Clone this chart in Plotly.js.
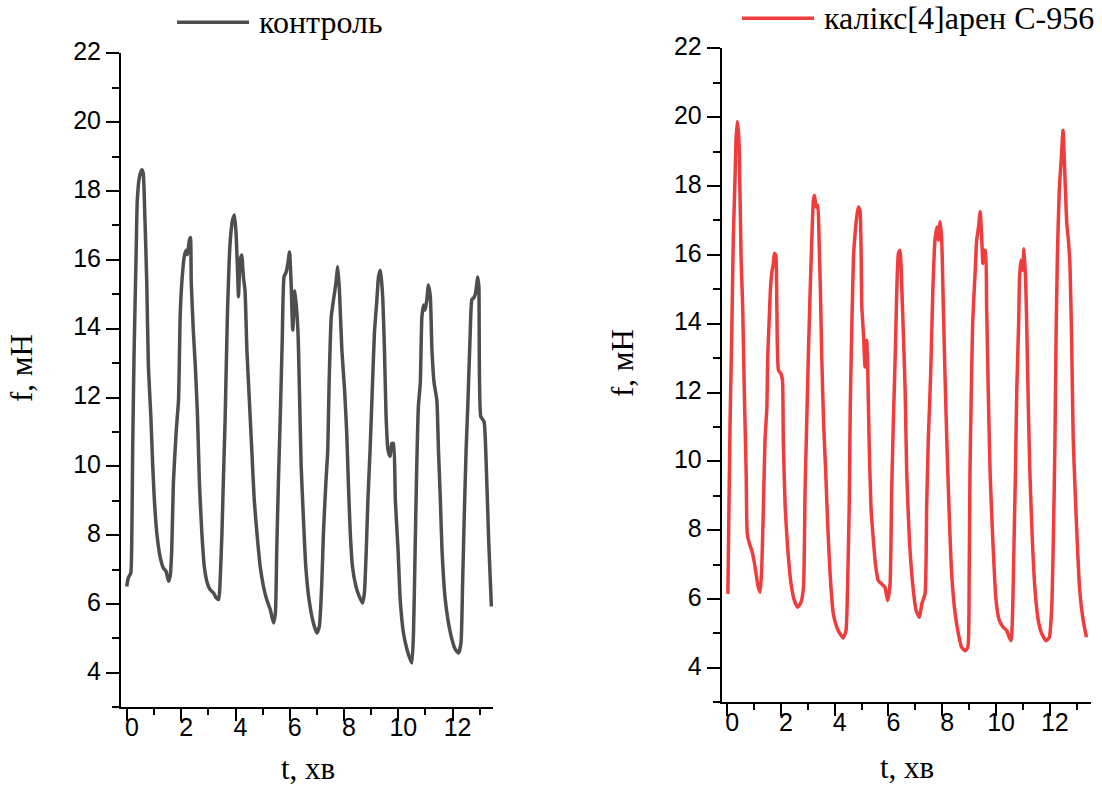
<!DOCTYPE html>
<html>
<head>
<meta charset="utf-8">
<script src="https://cdn.plot.ly/plotly-3.0.1.min.js"></script>
<style>html,body{margin:0;padding:0;background:#fff;}#chart{width:1102px;height:787px;}</style>
</head>
<body>
<div id="chart"></div>
<script>
// ---- data ----
const seriesNames = ["контроль", "калікс[4]арен С-956"];
const xTitle = "t, хв";
const yTitle = "f, мН";

const tControl = [-0.01,0.05,0.14,0.18,0.21,0.26,0.34,0.38,0.46,0.55,0.60,0.66,0.73,0.79,0.88,0.95,1.01,1.10,1.22,1.34,1.44,1.53,1.59,1.65,1.71,1.81,1.90,1.96,2.02,2.11,2.18,2.23,2.30,2.34,2.37,2.45,2.52,2.60,2.67,2.76,2.85,2.96,3.06,3.19,3.29,3.38,3.43,3.50,3.55,3.62,3.70,3.80,3.89,3.96,4.02,4.07,4.11,4.17,4.23,4.29,4.35,4.42,4.51,4.60,4.69,4.79,4.91,5.03,5.15,5.28,5.40,5.47,5.52,5.58,5.65,5.72,5.79,5.87,5.93,5.99,6.05,6.11,6.19,6.30,6.35,6.42,6.50,6.59,6.71,6.87,7.00,7.09,7.18,7.24,7.33,7.40,7.45,7.53,7.61,7.70,7.77,7.83,7.92,8.02,8.10,8.16,8.23,8.31,8.44,8.56,8.68,8.75,8.82,8.88,8.96,9.05,9.12,9.21,9.27,9.34,9.39,9.43,9.49,9.55,9.62,9.70,9.76,9.82,9.89,9.99,10.07,10.19,10.32,10.44,10.50,10.56,10.62,10.68,10.74,10.81,10.87,10.93,10.99,11.05,11.11,11.18,11.24,11.32,11.42,11.48,11.55,11.61,11.73,11.92,12.10,12.22,12.31,12.37,12.43,12.50,12.56,12.65,12.71,12.78,12.84,12.93,12.97,13.04,13.16,13.23,13.33,13.43];
const fControl = [6.51,6.76,6.90,8.06,10.48,13.19,16.28,17.73,18.41,18.62,18.51,17.25,15.32,12.90,11.45,10.00,9.03,8.06,7.38,7.05,6.95,6.66,6.80,7.58,9.51,10.96,11.93,14.35,15.32,16.09,16.28,16.15,16.57,16.65,15.32,13.87,12.90,11.45,9.51,8.06,7.09,6.61,6.42,6.32,6.18,6.13,6.61,8.06,9.51,11.45,14.35,16.48,17.15,17.30,16.77,15.80,14.93,15.99,16.14,15.51,15.12,13.38,11.93,10.48,9.03,8.06,7.09,6.51,6.13,5.84,5.45,5.74,7.58,9.51,11.45,13.58,15.51,15.65,15.90,16.23,15.32,13.96,15.10,13.96,12.42,10.00,8.54,7.09,6.13,5.45,5.16,5.35,6.61,8.06,9.51,10.48,12.42,14.35,14.83,15.32,15.80,15.12,13.38,12.22,10.96,9.51,8.06,7.09,6.51,6.22,6.03,6.32,7.58,9.03,10.48,12.42,13.87,14.83,15.51,15.70,15.32,14.83,13.38,11.45,10.48,10.29,10.67,10.67,9.03,7.58,6.13,5.16,4.68,4.39,4.29,5.16,7.58,10.00,11.74,12.42,14.35,14.69,14.54,14.83,15.27,14.93,13.38,12.42,11.93,10.48,9.03,7.58,6.13,5.16,4.68,4.58,4.87,6.61,8.54,10.50,11.74,13.87,14.84,14.90,15.00,15.50,15.20,11.45,11.30,10.29,7.87,5.93];

const tCalix = [0.03,0.07,0.11,0.17,0.23,0.30,0.33,0.38,0.42,0.45,0.52,0.58,0.64,0.71,0.75,0.83,0.92,1.00,1.08,1.16,1.23,1.29,1.35,1.41,1.48,1.51,1.56,1.61,1.66,1.72,1.76,1.81,1.85,1.91,2.00,2.06,2.09,2.16,2.26,2.38,2.50,2.63,2.75,2.84,2.90,2.96,3.02,3.09,3.15,3.21,3.25,3.31,3.37,3.42,3.47,3.52,3.59,3.67,3.74,3.83,3.95,4.08,4.20,4.32,4.42,4.49,4.54,4.58,4.64,4.70,4.76,4.82,4.88,4.94,5.01,5.07,5.13,5.19,5.23,5.28,5.35,5.44,5.53,5.62,5.75,5.87,5.97,6.06,6.12,6.18,6.25,6.31,6.37,6.43,6.49,6.55,6.62,6.68,6.78,6.90,7.03,7.15,7.24,7.36,7.42,7.48,7.57,7.65,7.73,7.80,7.86,7.92,7.98,8.04,8.10,8.17,8.25,8.35,8.48,8.60,8.72,8.85,8.95,9.00,9.03,9.07,9.13,9.22,9.28,9.35,9.41,9.47,9.51,9.55,9.60,9.65,9.71,9.78,9.88,10.00,10.12,10.27,10.40,10.49,10.56,10.62,10.67,10.72,10.77,10.84,10.87,10.92,10.98,11.04,11.10,11.14,11.20,11.26,11.35,11.45,11.57,11.70,11.86,11.98,12.07,12.13,12.19,12.23,12.28,12.35,12.43,12.49,12.55,12.63,12.69,12.75,12.81,12.87,12.99,13.11,13.24,13.36];
const fCalix = [6.15,8.67,11.09,13.52,16.43,18.36,19.30,19.87,19.60,19.14,15.94,14.49,12.06,9.64,7.90,7.61,7.41,7.12,6.73,6.34,6.20,6.93,8.67,10.61,11.58,13.03,14.00,14.97,15.46,15.75,16.04,15.99,14.49,12.65,12.55,12.35,10.61,8.67,7.41,6.44,5.96,5.76,5.91,6.34,9.16,11.09,13.03,14.97,16.43,17.59,17.73,17.39,17.44,16.43,14.97,13.03,11.09,9.64,8.19,6.73,5.57,5.18,4.99,4.87,5.08,6.73,8.67,11.58,14.00,15.94,16.62,17.10,17.39,17.30,14.49,13.71,12.74,13.52,12.65,10.61,8.67,7.70,6.93,6.54,6.44,6.34,5.96,6.44,9.16,11.09,13.03,14.97,16.04,16.13,15.16,13.80,12.06,9.64,7.70,6.44,5.67,5.47,5.86,6.15,8.67,10.61,12.55,14.97,16.43,16.81,16.43,16.96,16.43,14.49,12.55,10.61,8.67,6.73,5.57,4.99,4.60,4.50,4.60,6.73,9.64,11.58,14.00,15.46,16.43,16.81,17.25,16.43,15.75,16.13,16.13,14.49,12.06,9.64,7.70,5.96,5.38,5.18,5.08,4.89,4.79,5.76,7.70,9.64,12.06,14.00,15.26,15.84,15.55,16.18,15.26,14.00,11.58,9.64,7.70,6.25,5.38,4.99,4.79,4.89,5.76,7.70,10.61,13.52,15.94,17.88,18.85,19.62,18.50,16.91,16.43,15.65,13.52,10.61,8.19,6.25,5.38,4.89];

const xTickVals = [0, 2, 4, 6, 8, 10, 12];
const xTickText = ["0", "2", "4", "6", "8", "10", "12"];
const xMinorVals = [1, 3, 5, 7, 9, 11, 13];
const yTickVals = [4, 6, 8, 10, 12, 14, 16, 18, 20, 22];
const yTickText = ["4", "6", "8", "10", "12", "14", "16", "18", "20", "22"];
const yMinorVals = [3, 5, 7, 9, 11, 13, 15, 17, 19, 21];

// ---- layout helpers ----
const W = 1102, H = 787;
const px = v => v / W;
const py = v => 1 - v / H;

const colors = ["#4E4E4E", "#F03C3C"];
const tickFont = {family: "Liberation Sans, Arial, sans-serif", size: 25, color: "#000"};
const serif = {family: "Liberation Serif, Times New Roman, serif", size: 31, color: "#000"};
const legendFont = {family: "Liberation Serif, Times New Roman, serif", size: 32, color: "#000"};

function xAxis(domain, range) {
  return {
    domain: domain, range: range, tickmode: "array", tickvals: xTickVals, ticktext: xTickText,
    ticks: "outside", ticklen: 12, tickwidth: 2, tickcolor: "#000",
    showline: true, linewidth: 2, linecolor: "#000", showgrid: false, zeroline: false,
    tickfont: tickFont, ticklabelshift: 5, ticklabelstandoff: -15,
    minor: {tickmode: "array", tickvals: xMinorVals, ticks: "outside", ticklen: 6, tickwidth: 2, tickcolor: "#000", showgrid: false}
  };
}
function yAxis(domain) {
  return {
    domain: domain, range: [3, 22], tickmode: "array", tickvals: yTickVals, ticktext: yTickText,
    ticks: "outside", ticklen: 13, tickwidth: 2, tickcolor: "#000",
    showline: true, linewidth: 2, linecolor: "#000", showgrid: false, zeroline: false,
    tickfont: tickFont, ticklabelshift: -2,
    minor: {tickmode: "array", tickvals: yMinorVals, ticks: "outside", ticklen: 7, tickwidth: 2, tickcolor: "#000", showgrid: false}
  };
}

const traces = [
  {x: tControl, y: fControl, type: "scatter", mode: "lines", name: seriesNames[0],
   xaxis: "x", yaxis: "y", line: {color: colors[0], width: 3.5, shape: "spline", smoothing: 0.5}},
  {x: tCalix, y: fCalix, type: "scatter", mode: "lines", name: seriesNames[1],
   xaxis: "x2", yaxis: "y2", line: {color: colors[1], width: 3.5, shape: "spline", smoothing: 0.5}}
];

const layout = {
  width: W, height: H, margin: {l: 0, r: 0, t: 0, b: 0},
  paper_bgcolor: "#fff", plot_bgcolor: "rgba(0,0,0,0)", showlegend: false,
  xaxis: xAxis([px(121), px(493)], [-0.22, 13.49]),
  yaxis: Object.assign(yAxis([py(707.3), py(53.3)]), {anchor: "x"}),
  xaxis2: Object.assign(xAxis([px(721.7), px(1091)], [-0.2, 13.53]), {anchor: "y2"}),
  yaxis2: Object.assign(yAxis([py(702.3), py(48.3)]), {anchor: "x2"}),
  shapes: [
    {type: "line", xref: "paper", yref: "paper", x0: px(177), x1: px(249), y0: py(22.3), y1: py(22.3), line: {color: colors[0], width: 3.5}},
    {type: "line", xref: "paper", yref: "paper", x0: px(742), x1: px(814), y0: py(18.3), y1: py(18.3), line: {color: colors[1], width: 3.5}}
  ],
  annotations: [
    {text: seriesNames[0], xref: "paper", yref: "paper", x: px(257), y: py(21.5), xanchor: "left", yanchor: "middle", showarrow: false, font: legendFont},
    {text: seriesNames[1], xref: "paper", yref: "paper", x: px(822), y: py(18), xanchor: "left", yanchor: "middle", showarrow: false, font: legendFont},
    {text: xTitle, xref: "paper", yref: "paper", x: px(308), y: py(768), xanchor: "center", yanchor: "middle", showarrow: false, font: serif},
    {text: xTitle, xref: "paper", yref: "paper", x: px(906.5), y: py(767), xanchor: "center", yanchor: "middle", showarrow: false, font: serif},
    {text: yTitle, xref: "paper", yref: "paper", x: px(21), y: py(368), xanchor: "center", yanchor: "middle", textangle: -90, showarrow: false, font: serif},
    {text: yTitle, xref: "paper", yref: "paper", x: px(622), y: py(363), xanchor: "center", yanchor: "middle", textangle: -90, showarrow: false, font: serif}
  ]
};

Plotly.newPlot("chart", traces, layout, {staticPlot: true, displayModeBar: false});
</script>
</body>
</html>
